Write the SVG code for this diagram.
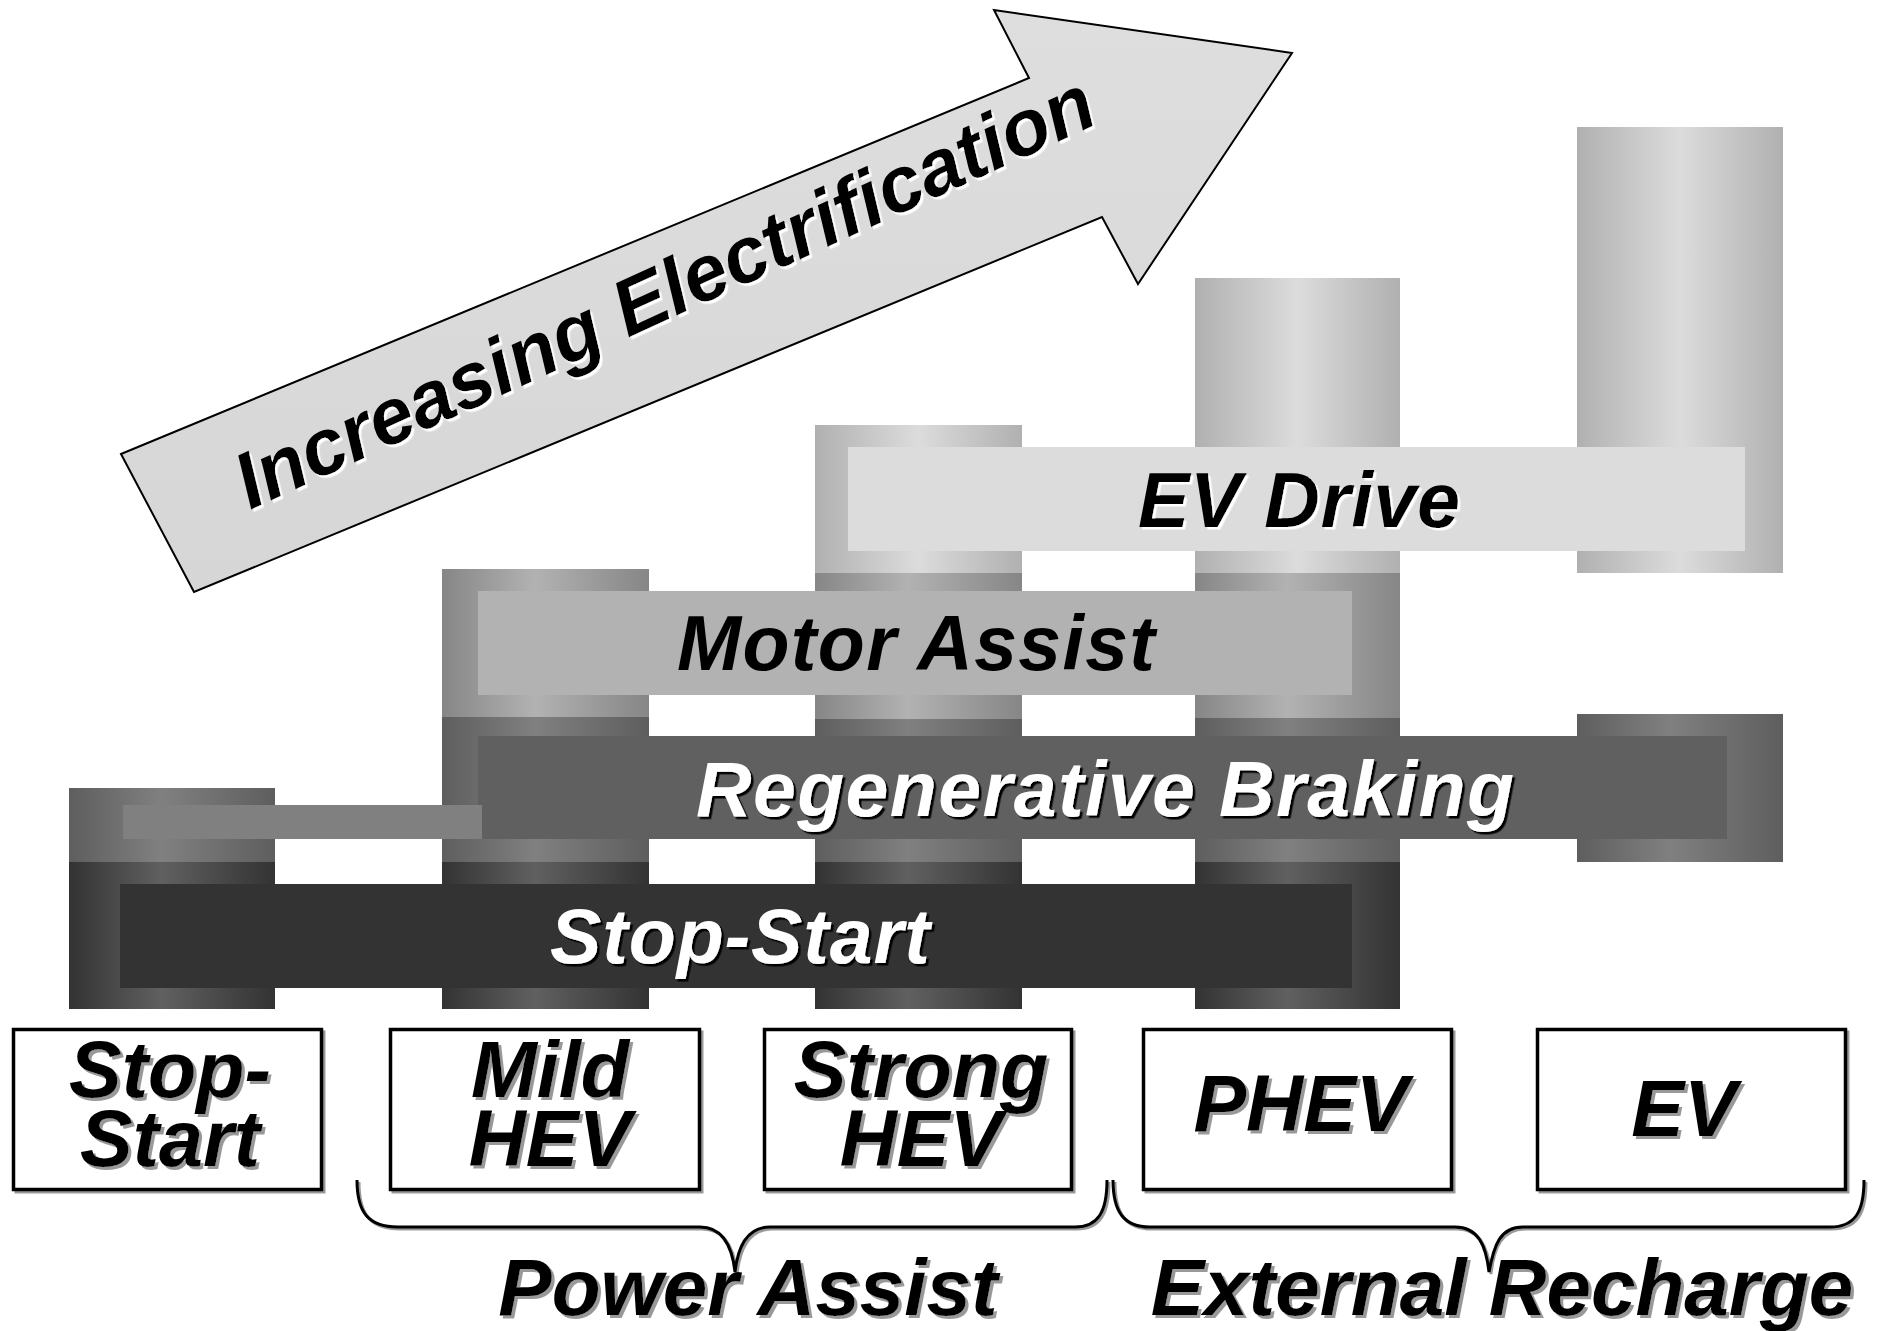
<svg xmlns="http://www.w3.org/2000/svg" width="1883" height="1331" viewBox="0 0 1883 1331">
<defs>
<linearGradient id="gL" x1="0" y1="0" x2="1" y2="0"><stop offset="0" stop-color="#b0b0b0"/><stop offset="0.5" stop-color="#dcdcdc"/><stop offset="1" stop-color="#b0b0b0"/></linearGradient>
<linearGradient id="gML" x1="0" y1="0" x2="1" y2="0"><stop offset="0" stop-color="#868686"/><stop offset="0.45" stop-color="#b2b2b2"/><stop offset="1" stop-color="#868686"/></linearGradient>
<linearGradient id="gM" x1="0" y1="0" x2="1" y2="0"><stop offset="0" stop-color="#5e5e5e"/><stop offset="0.45" stop-color="#808080"/><stop offset="1" stop-color="#5e5e5e"/></linearGradient>
<linearGradient id="gD" x1="0" y1="0" x2="1" y2="0"><stop offset="0" stop-color="#333333"/><stop offset="0.45" stop-color="#606060"/><stop offset="1" stop-color="#333333"/></linearGradient>
<linearGradient id="gA" x1="0" y1="0" x2="0" y2="1"><stop offset="0" stop-color="#dedede"/><stop offset="1" stop-color="#d6d6d6"/></linearGradient>
<filter id="shG" x="-5%" y="-20%" width="115%" height="150%"><feDropShadow dx="3" dy="3" stdDeviation="0" flood-color="#999999" flood-opacity="1"/></filter>
<filter id="shW" x="-5%" y="-20%" width="115%" height="150%"><feDropShadow dx="2.5" dy="2.5" stdDeviation="0" flood-color="#ffffff" flood-opacity="1"/></filter>
<filter id="shB" x="-5%" y="-20%" width="115%" height="150%"><feDropShadow dx="2.5" dy="2.5" stdDeviation="0" flood-color="#000000" flood-opacity="1"/></filter>
</defs>
<style>
.t{font-family:"Liberation Sans",Arial,sans-serif;font-weight:bold;font-style:italic;}
.c{text-anchor:middle;}
.bx{fill:#ffffff;stroke:#000;stroke-width:3.5;}
.bxs{fill:none;stroke:#999;stroke-width:3;}
.br{fill:none;stroke:#000;stroke-width:3;}
.brs{fill:none;stroke:#999;stroke-width:3;}
</style>
<rect width="1883" height="1331" fill="#fff"/>

<g id="arrow">
<polygon points="121,454 1029,78 994,10 1292,53 1138,284 1102,217 194,592" fill="url(#gA)" stroke="#000" stroke-width="2" stroke-linejoin="miter"/>
<g filter="url(#shW)">
<g transform="translate(250,510) rotate(-24.5)">
<text class="t" x="0" y="0" font-size="79" fill="#000" textLength="935" lengthAdjust="spacing">Increasing Electrification</text>
</g>
</g>
</g>

<g id="columns">
<g id="col-stopstart">
<rect x="69" y="788" width="206" height="74" fill="url(#gM)"/>
<rect x="69" y="862" width="206" height="147" fill="url(#gD)"/>
</g>
<g id="col-mild">
<rect x="442" y="569" width="207" height="148" fill="url(#gML)"/>
<rect x="442" y="717" width="207" height="145" fill="url(#gM)"/>
<rect x="442" y="862" width="207" height="147" fill="url(#gD)"/>
</g>
<g id="col-strong">
<rect x="815" y="425" width="207" height="148" fill="url(#gL)"/>
<rect x="815" y="573" width="207" height="146" fill="url(#gML)"/>
<rect x="815" y="719" width="207" height="143" fill="url(#gM)"/>
<rect x="815" y="862" width="207" height="147" fill="url(#gD)"/>
</g>
<g id="col-phev">
<rect x="1195" y="278" width="205" height="295" fill="url(#gL)"/>
<rect x="1195" y="573" width="205" height="145" fill="url(#gML)"/>
<rect x="1195" y="718" width="205" height="144" fill="url(#gM)"/>
<rect x="1195" y="862" width="205" height="147" fill="url(#gD)"/>
</g>
<g id="col-ev">
<rect x="1577" y="127" width="206" height="446" fill="url(#gL)"/>
<rect x="1577" y="714" width="206" height="148" fill="url(#gM)"/>
</g>
</g>

<g id="bar-ev-drive">
<rect x="848" y="447" width="897" height="104" fill="#dcdcdc"/>
<text class="t c" x="1299" y="527" font-size="77" fill="#000" filter="url(#shW)" textLength="322" lengthAdjust="spacing">EV Drive</text>
</g>

<g id="bar-motor-assist">
<rect x="478" y="591" width="874" height="104" fill="#b2b2b2"/>
<text class="t c" x="916" y="670" font-size="77" fill="#000" textLength="478" lengthAdjust="spacing">Motor Assist</text>
</g>

<g id="bar-regen">
<rect x="478" y="736" width="1249" height="103" fill="#606060"/>
<text class="t c" x="1105" y="816" font-size="77" fill="#fff" filter="url(#shB)" textLength="818" lengthAdjust="spacing">Regenerative Braking</text>
</g>

<g id="bar-small">
<rect x="123" y="805" width="359" height="34" fill="#808080"/>
</g>

<g id="bar-stop-start">
<rect x="120" y="884" width="1232" height="104" fill="#333333"/>
<text class="t c" x="740" y="963" font-size="77" fill="#fff" filter="url(#shB)" textLength="380" lengthAdjust="spacing">Stop-Start</text>
</g>

<g id="box-stop-start">
<rect class="bxs" x="16" y="1032" width="308" height="160"/>
<rect class="bx" x="13.5" y="1029.5" width="308" height="160"/>
<text class="t c" font-size="79" fill="#000" filter="url(#shG)"><tspan x="170" y="1097">Stop-</tspan><tspan x="170" y="1166">Start</tspan></text>
</g>

<g id="box-mild-hev">
<rect class="bxs" x="393" y="1032" width="309" height="160"/>
<rect class="bx" x="390.5" y="1029.5" width="309" height="160"/>
<text class="t c" font-size="79" fill="#000" filter="url(#shG)"><tspan x="550" y="1097">Mild</tspan><tspan x="550" y="1166">HEV</tspan></text>
</g>

<g id="box-strong-hev">
<rect class="bxs" x="767" y="1032" width="307" height="160"/>
<rect class="bx" x="764.5" y="1029.5" width="307" height="160"/>
<text class="t c" font-size="79" fill="#000" filter="url(#shG)"><tspan x="921" y="1097">Strong</tspan><tspan x="921" y="1166">HEV</tspan></text>
</g>

<g id="box-phev">
<rect class="bxs" x="1146" y="1032" width="308" height="160"/>
<rect class="bx" x="1143.5" y="1029.5" width="308" height="160"/>
<text class="t c" x="1301" y="1131" font-size="79" fill="#000" filter="url(#shG)">PHEV</text>
</g>

<g id="box-ev">
<rect class="bxs" x="1540" y="1032" width="308" height="160"/>
<rect class="bx" x="1537.5" y="1029.5" width="308" height="160"/>
<text class="t c" x="1684" y="1136" font-size="79" fill="#000" filter="url(#shG)">EV</text>
</g>

<g id="connectors">
<path class="brs" d="M359,1182 C359,1214 370,1229 400,1229 L702,1229 C724,1229 734,1247 737,1274 C740,1247 750,1229 772,1229 L1077,1229 C1100,1229 1109,1214 1109,1182"/>
<path class="br" d="M357,1180 C357,1212 368,1227 398,1227 L700,1227 C722,1227 732,1245 735,1272 C738,1245 748,1227 770,1227 L1075,1227 C1098,1227 1107,1212 1107,1180"/>
<path class="brs" d="M1115,1182 C1115,1214 1126,1229 1152,1229 L1457,1229 C1480,1229 1488,1247 1491,1274 C1494,1247 1502,1229 1525,1229 L1832,1229 C1857,1229 1866,1214 1866,1182"/>
<path class="br" d="M1113,1180 C1113,1212 1124,1227 1150,1227 L1455,1227 C1478,1227 1486,1245 1489,1272 C1494,1245 1500,1227 1523,1227 L1830,1227 C1855,1227 1864,1212 1864,1180"/>
</g>

<g id="group-labels" filter="url(#shG)">
<text class="t c" x="748" y="1315" font-size="80" fill="#000">Power Assist</text>
<text class="t c" x="1502" y="1315" font-size="80" fill="#000">External Recharge</text>
</g>
</svg>
